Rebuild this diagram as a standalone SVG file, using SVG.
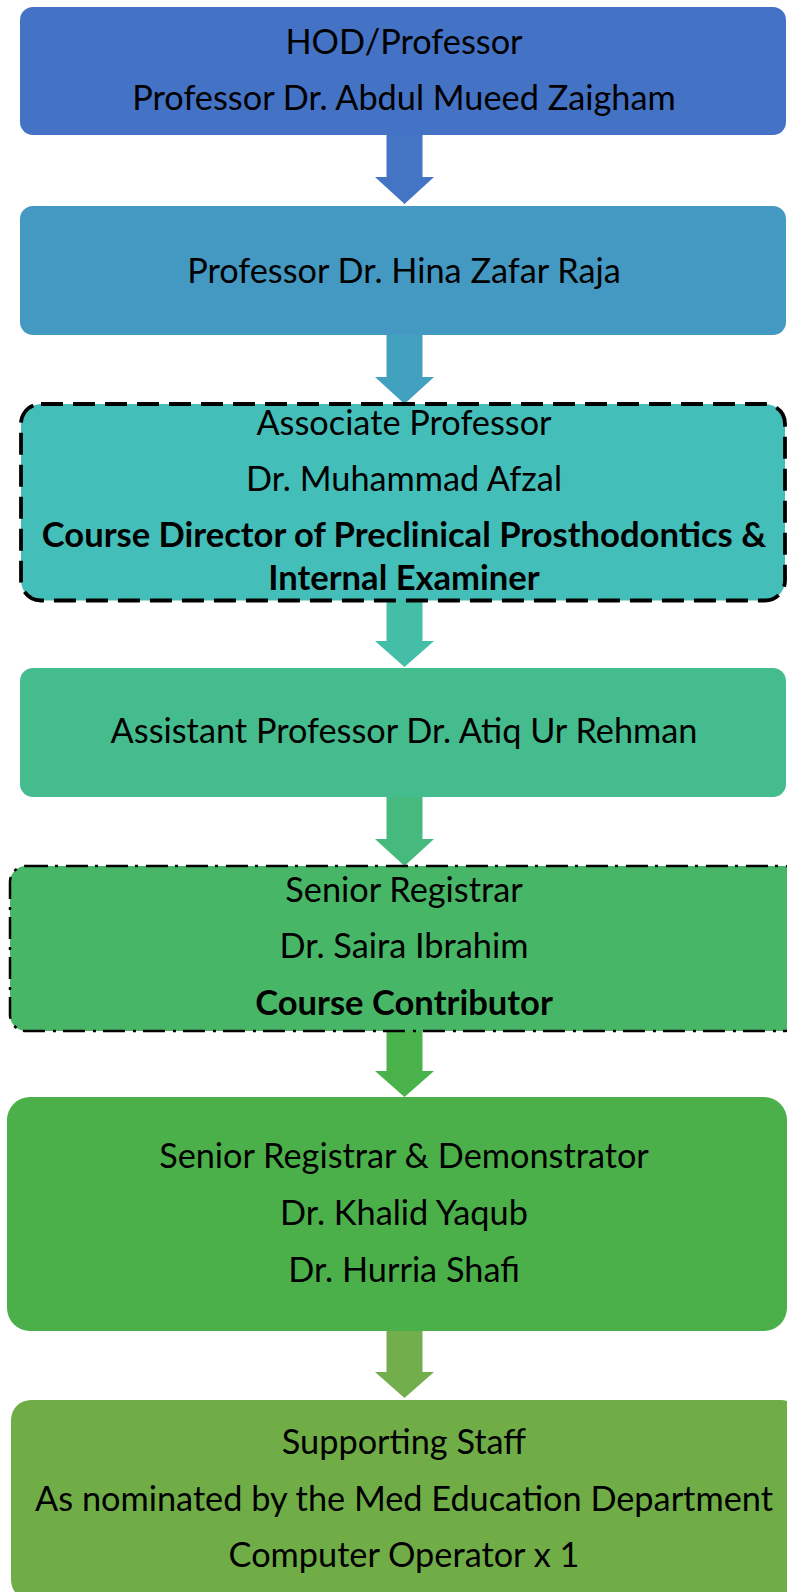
<svg xmlns="http://www.w3.org/2000/svg" width="787" height="1592" viewBox="0 0 787 1592">
<style>
.t{font-family:Lato,"Open Sans","Liberation Sans",sans-serif;font-size:34.3px;fill:#000;text-anchor:middle}
.b{font-weight:bold;font-size:34.6px}
.dash{stroke:#000;stroke-width:3.8;stroke-dasharray:22 10}
.dashdot{stroke:#000;stroke-width:2.5;stroke-dasharray:22 7 3 8}
</style>
<rect width="787" height="1592" fill="#fff"/>
<g id="connectors">
<path d="M386.5 134 H422.5 V177 H434 L404.5 204 L375 177 H386.5 Z" fill="#4474C4"/>
<path d="M386.5 334 H422.5 V377 H434 L404.5 404 L375 377 H386.5 Z" fill="#43A1C0"/>
<path d="M386.5 600 H422.5 V641 H434 L404.5 667 L375 641 H386.5 Z" fill="#45BEA8"/>
<path d="M386.5 796 H422.5 V839 H434 L404.5 866 L375 839 H386.5 Z" fill="#46BA7E"/>
<path d="M386.5 1030 H422.5 V1071 H434 L404.5 1097 L375 1071 H386.5 Z" fill="#4AB24B"/>
<path d="M386.5 1330 H422.5 V1372 H434 L404.5 1398 L375 1372 H386.5 Z" fill="#72AE4C"/>
</g>
<g id="node1">
<rect x="20" y="7" width="766" height="128" rx="13" fill="#4472C4"/>
<text class="t" x="404" y="54">HOD/Professor</text>
<text class="t" x="404" y="110">Professor Dr. Abdul Mueed Zaigham</text>
</g>
<g id="node2">
<rect x="20" y="206" width="766" height="129" rx="13" fill="#4399C1"/>
<text class="t" x="404" y="283">Professor Dr. Hina Zafar Raja</text>
</g>
<g id="node3">
<rect x="21" y="404" width="764" height="196.5" rx="20" fill="#44BEB8" class="dash"/>
<text class="t" x="404" y="435">Associate Professor</text>
<text class="t" x="404" y="491">Dr. Muhammad Afzal</text>
<text class="t b" x="404" y="547">Course Director of Preclinical Prosthodontics &amp;</text>
<text class="t b" x="404" y="590">Internal Examiner</text>
</g>
<g id="node4">
<rect x="20" y="668" width="766" height="129" rx="13" fill="#45BC8E"/>
<text class="t" x="404" y="743">Assistant Professor Dr. Atiq Ur Rehman</text>
</g>
<g id="node5">
<rect x="10" y="866" width="790" height="165" rx="16" fill="#48B667" class="dashdot"/>
<text class="t" x="404" y="902">Senior Registrar</text>
<text class="t" x="404" y="958">Dr. Saira Ibrahim</text>
<text class="t b" x="404" y="1015">Course Contributor</text>
</g>
<g id="node6">
<rect x="7" y="1097" width="780" height="234" rx="23" fill="#4CB04A"/>
<text class="t" x="404" y="1168">Senior Registrar &amp; Demonstrator</text>
<text class="t" x="404" y="1225">Dr. Khalid Yaqub</text>
<text class="t" x="404" y="1282">Dr. Hurria Shafi</text>
</g>
<g id="node7">
<rect x="11" y="1400" width="790" height="200" rx="20" fill="#70AD47"/>
<text class="t" x="404" y="1454">Supporting Staff</text>
<text class="t" x="404" y="1511">As nominated by the Med Education Department</text>
<text class="t" x="404" y="1567">Computer Operator x 1</text>
</g>
</svg>
